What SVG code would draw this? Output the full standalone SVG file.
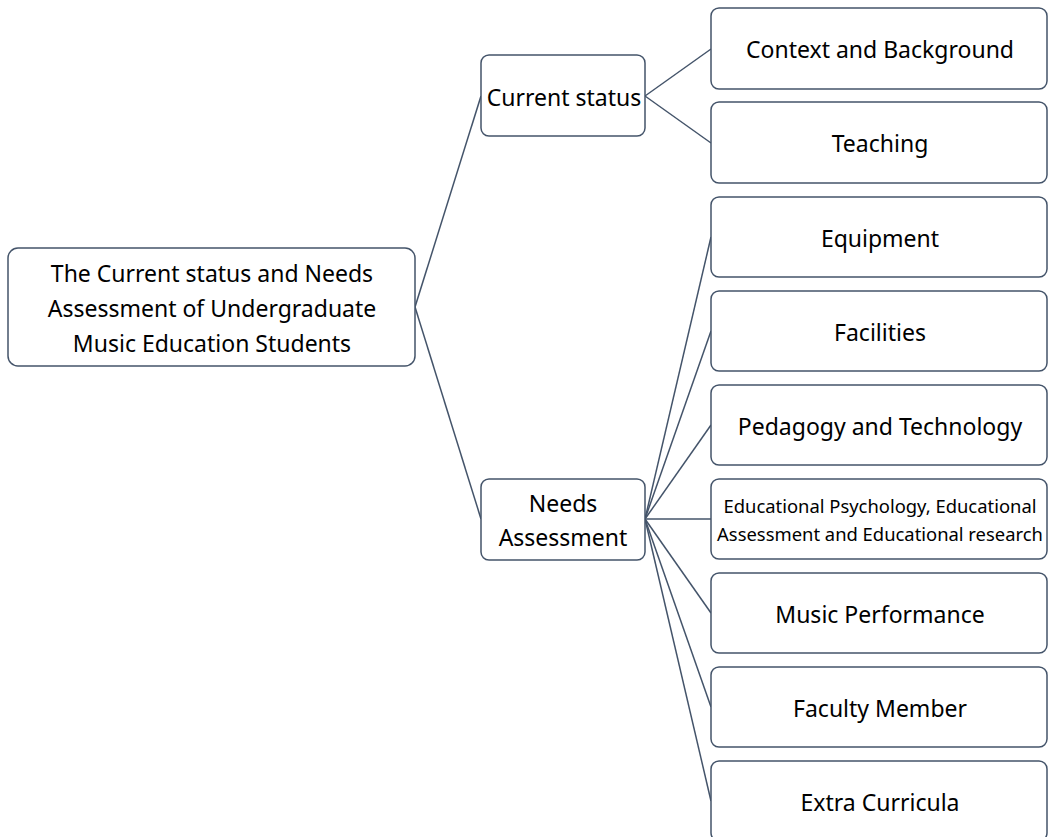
<svg xmlns="http://www.w3.org/2000/svg" width="1048" height="837" viewBox="0 0 1048 837">
<style>
.box{fill:#fff;stroke:#44546a;stroke-width:1.5}
.t{font-family:"Noto Sans","Liberation Sans",sans-serif;font-size:23px;fill:#000;text-anchor:middle;dominant-baseline:central}
.s{font-size:18.4px}
.c{fill:none;stroke:#44546a;stroke-width:1.5}
</style>
<rect width="1048" height="837" fill="#fff"/>
<g id="connectors" class="c">
<line x1="415" y1="307" x2="481" y2="96"/>
<line x1="415" y1="307" x2="481" y2="519"/>
<line x1="645" y1="96" x2="711" y2="49"/>
<line x1="645" y1="96" x2="711" y2="143"/>
<line x1="645" y1="519" x2="711" y2="237"/>
<line x1="645" y1="519" x2="711" y2="331"/>
<line x1="645" y1="519" x2="711" y2="425"/>
<line x1="645" y1="519" x2="711" y2="519"/>
<line x1="645" y1="519" x2="711" y2="613"/>
<line x1="645" y1="519" x2="711" y2="707"/>
<line x1="645" y1="519" x2="711" y2="801"/>
</g>
<g id="root"><rect class="box" x="8" y="248" width="407" height="118" rx="10"/>
<text class="t" x="212" y="273">The Current status and Needs</text>
<text class="t" x="212" y="308">Assessment of Undergraduate</text>
<text class="t" x="212" y="343">Music Education Students</text></g>
<g id="current"><rect class="box" x="481" y="55" width="164" height="81" rx="8"/>
<text class="t" x="564" y="97">Current status</text></g>
<g id="needs"><rect class="box" x="481" y="479" width="164" height="81" rx="8"/>
<text class="t" x="563" y="503">Needs</text>
<text class="t" x="563" y="537">Assessment</text></g>
<g id="context"><rect class="box" x="711" y="8" width="336" height="81" rx="8"/>
<text class="t" x="880" y="49">Context and Background</text></g>
<g id="teaching"><rect class="box" x="711" y="102" width="336" height="81" rx="8"/>
<text class="t" x="880" y="143">Teaching</text></g>
<g id="equipment"><rect class="box" x="711" y="197" width="336" height="80" rx="8"/>
<text class="t" x="880" y="238">Equipment</text></g>
<g id="facilities"><rect class="box" x="711" y="291" width="336" height="80" rx="8"/>
<text class="t" x="880" y="332">Facilities</text></g>
<g id="pedagogy"><rect class="box" x="711" y="385" width="336" height="80" rx="8"/>
<text class="t" x="880" y="426">Pedagogy and Technology</text></g>
<g id="edpsych"><rect class="box" x="711" y="479" width="336" height="80" rx="8"/>
<text class="t s" x="880" y="505">Educational Psychology, Educational</text>
<text class="t s" x="880" y="533">Assessment and Educational research</text></g>
<g id="performance"><rect class="box" x="711" y="573" width="336" height="80" rx="8"/>
<text class="t" x="880" y="614">Music Performance</text></g>
<g id="faculty"><rect class="box" x="711" y="667" width="336" height="80" rx="8"/>
<text class="t" x="880" y="708">Faculty Member</text></g>
<g id="extra"><rect class="box" x="711" y="761" width="336" height="80" rx="8"/>
<text class="t" x="880" y="802">Extra Curricula</text></g>
</svg>
